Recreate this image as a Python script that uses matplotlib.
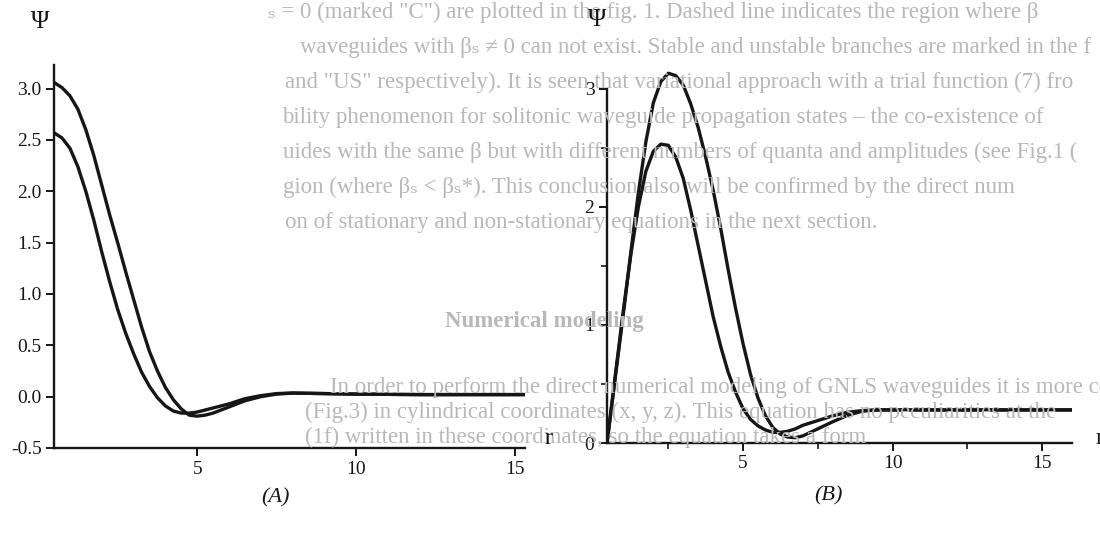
import numpy as np
import matplotlib
matplotlib.use("Agg")
from matplotlib import pyplot as plt

plt.rcParams['font.family'] = ['Liberation Serif', 'DejaVu Serif']
plt.rcParams['mathtext.fontset'] = 'stix'

# panel (A): r and the two profiles
r_a = [0.5, 0.75, 1.0, 1.25, 1.5, 1.75, 2.0, 2.25, 2.5, 2.75, 3.0, 3.25, 3.5, 3.75,
       4.0, 4.25, 4.5, 4.75, 5.0, 5.25, 5.5, 6.0, 6.5, 7.0, 7.5, 8.0, 9.0, 10.0, 12.0, 15.3]
psi_a_hi = [3.06, 3.01, 2.93, 2.80, 2.60, 2.35, 2.06, 1.77, 1.50, 1.22, 0.95, 0.68, 0.44, 0.25,
            0.09, -0.03, -0.12, -0.18, -0.19, -0.18, -0.16, -0.10, -0.04, 0.0, 0.025, 0.035, 0.03, 0.025, 0.02, 0.02]
psi_a_lo = [2.57, 2.52, 2.42, 2.24, 2.00, 1.72, 1.41, 1.12, 0.85, 0.62, 0.42, 0.24, 0.10, -0.01,
            -0.09, -0.14, -0.16, -0.16, -0.15, -0.13, -0.11, -0.07, -0.02, 0.01, 0.03, 0.035, 0.03, 0.025, 0.02, 0.02]

# panel (B)
r_b = [0.45, 0.75, 1.0, 1.25, 1.5, 1.75, 2.0, 2.25, 2.5, 2.75, 3.0, 3.25, 3.5, 3.75,
       4.0, 4.25, 4.5, 4.75, 5.0, 5.25, 5.5, 5.75, 6.0, 6.25, 6.5, 6.75, 7.0, 7.5,
       8.0, 8.5, 9.0, 9.5, 10.0, 12.0, 14.0, 16.0]
psi_b_hi = [0.0, 0.60, 1.10, 1.62, 2.12, 2.55, 2.88, 3.06, 3.13, 3.11, 3.03, 2.87, 2.67, 2.42,
            2.14, 1.82, 1.47, 1.14, 0.84, 0.58, 0.38, 0.23, 0.13, 0.075, 0.05, 0.045, 0.06, 0.12,
            0.18, 0.235, 0.27, 0.28, 0.28, 0.28, 0.28, 0.28]
psi_b_lo = [0.0, 0.62, 1.13, 1.60, 2.00, 2.30, 2.47, 2.53, 2.52, 2.42, 2.24, 1.97, 1.67, 1.37,
            1.07, 0.82, 0.60, 0.43, 0.29, 0.20, 0.145, 0.11, 0.09, 0.09, 0.10, 0.12, 0.15, 0.19,
            0.23, 0.26, 0.275, 0.28, 0.28, 0.28, 0.28, 0.28]

# faint text showing through from the scanned page
ghost_lines = [
    (268, 12, 'ₛ = 0 (marked "C") are plotted in the fig. 1. Dashed line indicates the region where β'),
    (300, 47, 'waveguides with βₛ ≠ 0 can not exist. Stable and unstable branches are marked in the f'),
    (285, 82, 'and "US" respectively). It is seen that variational approach with a trial function (7) fro'),
    (282, 117, 'bility phenomenon for solitonic waveguide propagation states – the co-existence of'),
    (283, 152, 'uides with the same β but with different numbers of quanta and amplitudes (see Fig.1 ('),
    (283, 187, 'gion (where βₛ < βₛ*). This conclusion also will be confirmed by the direct num'),
    (285, 222, 'on of stationary and non-stationary equations in the next section.'),
    (330, 388, 'In order to perform the direct numerical modeling of GNLS waveguides it is more convenient t'),
    (305, 412, '(Fig.3) in cylindrical coordinates (x, y, z). This equation has no peculiarities at the'),
    (305, 437, '(1f) written in these coordinates, so the equation takes a form'),
]

W, H = 1100, 543
fig = plt.figure(figsize=(W / 100, H / 100), dpi=100)

for gx, gy, txt in ghost_lines:
    fig.text(gx / W, 1 - gy / H, txt, fontsize=16.5, color='#b8b8b8', va='center', ha='left', zorder=0)
fig.text(445 / W, 1 - 322 / H, 'Numerical modeling', fontsize=16.5, fontweight='bold',
         color='#b8b8b8', va='center', ha='left', zorder=0)


def px_axes(x0, x1, y_bot, y_top):
    return fig.add_axes([x0 / W, 1 - y_bot / H, (x1 - x0) / W, (y_bot - y_top) / H])


line_kw = dict(color='#161616', lw=2.4, solid_capstyle='round')

# (A)
ax1 = px_axes(54, 525, 448, 65)
ax1.patch.set_alpha(0)
ax1.plot(r_a, psi_a_hi, **line_kw)
ax1.plot(r_a, psi_a_lo, **line_kw)
ax1.set_xlim(0.5, 15.3)
ax1.set_ylim(-0.5, 3.23)
ax1.set_xticks([5, 10, 15])
ax1.set_yticks(np.arange(-0.5, 3.01, 0.5))
ax1.set_yticklabels([f'{v:.1f}' for v in np.arange(-0.5, 3.01, 0.5)])

# (B)
ax2 = px_axes(607, 1072, 443, 65)
ax2.patch.set_alpha(0)
ax2.plot(r_b, psi_b_hi, **line_kw)
ax2.plot(r_b, psi_b_lo, **line_kw)
ax2.set_xlim(0.45, 16.0)
ax2.set_ylim(0, 3.2)
ax2.set_xticks([5, 10, 15])
ax2.set_xticks([2.5, 7.5, 12.5], minor=True)
ax2.set_yticks([0, 1, 2, 3])
ax2.set_yticks([0.5, 1.5, 2.5], minor=True)
ax2.spines['left'].set_bounds(0, 3)

for ax in (ax1, ax2):
    for s in ('top', 'right'):
        ax.spines[s].set_visible(False)
    for s in ('left', 'bottom'):
        ax.spines[s].set_linewidth(1.7)
        ax.spines[s].set_color('#161616')
    ax.tick_params(which='major', direction='out', length=6, width=1.4, labelsize=14,
                   colors='#161616', pad=3)
    ax.tick_params(which='minor', direction='out', length=4, width=1.2, colors='#161616')

fig.text(40 / W, 1 - 22 / H, 'Ψ', fontsize=18, ha='center', va='center', color='#161616')
fig.text(597 / W, 1 - 20 / H, 'Ψ', fontsize=18, ha='center', va='center', color='#161616')
fig.text(548 / W, 1 - 438 / H, 'r', fontsize=17, ha='center', va='center', color='#161616')
fig.text(1096 / W, 1 - 438 / H, 'r', fontsize=17, ha='left', va='center', color='#161616')
fig.text(275 / W, 1 - 498 / H, '(A)', fontsize=16, style='italic', ha='center', va='center', color='#161616')
fig.text(828 / W, 1 - 496 / H, '(B)', fontsize=16, style='italic', ha='center', va='center', color='#161616')

fig.savefig('out.png', dpi=100)
